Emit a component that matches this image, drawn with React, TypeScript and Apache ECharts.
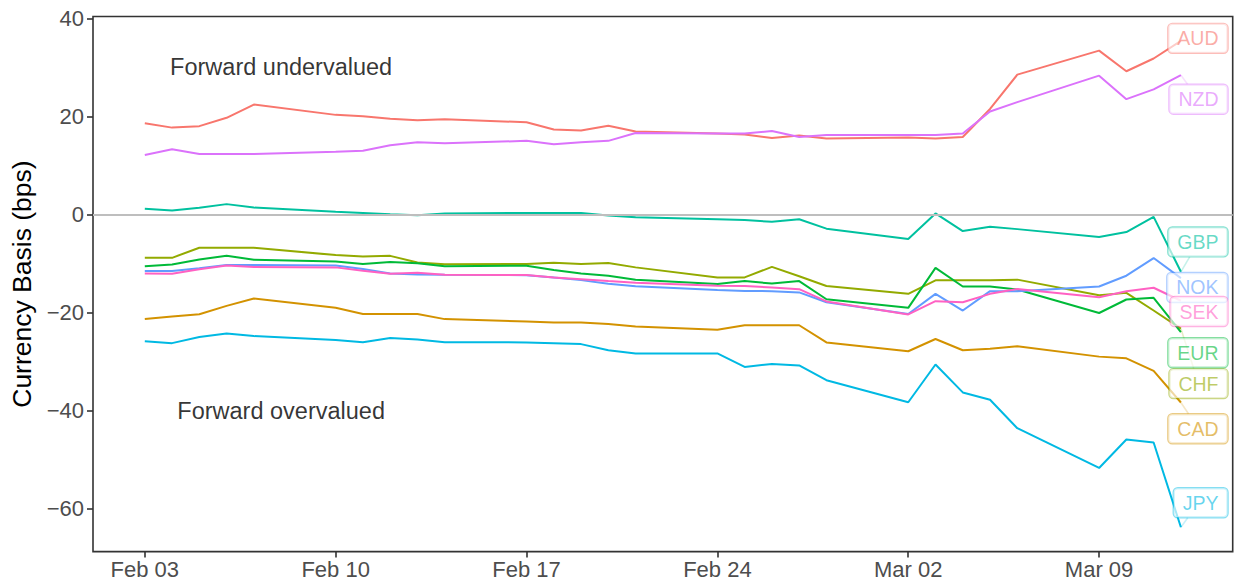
import React, { useEffect, useRef } from "react";
import * as echarts from "echarts";

// Trading days, counted from Feb 03
const dayOffsets = [0, 1, 2, 3, 4, 7, 8, 9, 10, 11, 14, 15, 16, 17, 18, 21, 22, 23, 24, 25, 28, 29, 30, 31, 32, 35, 36, 37, 38];
const tickDays = [0, 7, 14, 21, 28, 35];
const tickLabels = ["Feb 03", "Feb 10", "Feb 17", "Feb 24", "Mar 02", "Mar 09"];
const yTicks = [-60, -40, -20, 0, 20, 40];

const currencies = ["AUD", "CAD", "CHF", "EUR", "GBP", "JPY", "NOK", "NZD", "SEK"];
const colors = ["#F8766D", "#D39200", "#93AA00", "#00BA38", "#00C19F", "#00B9E3", "#619CFF", "#DB72FB", "#FF61C3"];

const AUD = [18.6, 17.7, 18.0, 19.7, 22.4, 20.3, 20.0, 19.5, 19.2, 19.4, 18.8, 17.3, 17.1, 18.1, 16.9, 16.5, 16.3, 15.6, 16.1, 15.5, 15.7, 15.5, 15.8, 21.5, 28.5, 33.4, 29.2, 31.8, 35.4];
const CAD = [-21.35, -20.8, -20.35, -18.65, -17.15, -19.05, -20.3, -20.3, -20.3, -21.35, -21.85, -22.05, -22.05, -22.35, -22.85, -23.5, -22.6, -22.6, -22.6, -26.1, -27.9, -25.4, -27.7, -27.4, -26.9, -29.0, -29.35, -31.9, -38.35];
const CHF = [-8.85, -8.85, -6.8, -6.8, -6.8, -8.3, -8.6, -8.45, -9.8, -10.15, -10.1, -9.85, -10.1, -9.9, -10.8, -12.85, -12.85, -10.7, -12.6, -14.6, -16.2, -13.45, -13.45, -13.45, -13.3, -16.5, -16.0, -19.6, -23.3];
const EUR = [-10.55, -10.2, -9.2, -8.45, -9.25, -9.6, -10.1, -9.7, -9.95, -10.55, -10.45, -11.35, -12.05, -12.5, -13.3, -14.2, -13.6, -14.1, -13.6, -17.3, -19.05, -10.9, -14.7, -14.7, -15.3, -20.1, -17.35, -17.0, -24.0];
const GBP = [1.15, 0.8, 1.35, 2.1, 1.4, 0.55, 0.3, 0.05, -0.15, 0.2, 0.3, 0.3, 0.3, -0.2, -0.6, -1.0, -1.15, -1.5, -1.0, -2.9, -5.0, 0.2, -3.4, -2.5, -3.0, -4.6, -3.6, -0.5, -11.7];
const JPY = [-25.85, -26.25, -25.0, -24.3, -24.8, -25.6, -26.05, -25.2, -25.5, -26.05, -26.1, -26.25, -26.45, -27.7, -28.35, -28.35, -31.1, -30.5, -30.8, -33.8, -38.3, -30.6, -36.3, -37.8, -43.6, -51.7, -45.9, -46.5, -63.8];
const NOK = [-11.55, -11.55, -11.0, -10.3, -10.3, -10.4, -11.15, -12.05, -12.25, -12.3, -12.4, -12.85, -13.4, -14.15, -14.65, -15.4, -15.6, -15.65, -15.9, -17.9, -20.3, -16.2, -19.6, -15.65, -15.65, -14.7, -12.5, -8.9, -13.0];
const NZD = [12.1, 13.3, 12.3, 12.3, 12.3, 12.8, 13.0, 14.1, 14.7, 14.5, 15.0, 14.3, 14.7, 15.0, 16.6, 16.5, 16.5, 17.0, 15.8, 16.2, 16.2, 16.2, 16.5, 21.0, 22.9, 28.3, 23.5, 25.5, 28.4];
const SEK = [-12.05, -12.1, -11.2, -10.4, -10.7, -10.8, -11.5, -12.1, -11.9, -12.3, -12.35, -12.85, -13.2, -13.6, -13.95, -14.55, -14.6, -14.9, -15.25, -17.75, -20.4, -17.7, -17.9, -16.2, -15.2, -16.9, -15.65, -14.95, -17.6];

const seriesValues = [AUD, CAD, CHF, EUR, GBP, JPY, NOK, NZD, SEK];
// repelled label positions (y, in bps)
const labelValues = [35.9, -43.7, -34.5, -28.2, -5.6, -58.8, -14.9, 23.5, -19.8];

const annotations = [
  { text: "Forward undervalued", day: 5, value: 30 },
  { text: "Forward overvalued", day: 5, value: -40 },
];

const X_MIN = -1.9;
const X_MAX = 39.9;
const Y_MIN = -68.76;
const Y_MAX = 40.36;
const LABEL_X = 39.71;

const FONT = "'Liberation Sans', Arial, Helvetica, sans-serif";

function rgba(hex: string, a: number) {
  const n = parseInt(hex.slice(1), 16);
  return `rgba(${(n >> 16) & 255},${(n >> 8) & 255},${n & 255},${a})`;
}

export default function App() {
  const ref = useRef<HTMLDivElement>(null);

  useEffect(() => {
    document.body.style.margin = "0";
    if (!ref.current) return;
    const chart = echarts.init(ref.current, undefined, { renderer: "svg" });

    const gridLeft = 92, gridRight = 3.3, gridTop = 16.5, gridBottom = 33.4;
    const pxPerDay = (1236 - gridLeft - gridRight) / (X_MAX - X_MIN);
    const pxPerUnit = (585 - gridTop - gridBottom) / (Y_MAX - Y_MIN);
    const halfW = 29, halfH = 15;

    const lastIdx = dayOffsets.length - 1;
    const connectors: any[] = [];
    currencies.forEach((c, i) => {
      const px = dayOffsets[lastIdx];
      const py = seriesValues[i][lastIdx];
      const cx = LABEL_X - 29 / pxPerDay;
      const cy = labelValues[i];
      const dx = (px - cx) * pxPerDay;
      const dy = (py - cy) * pxPerUnit;
      if (Math.abs(dx) <= halfW && Math.abs(dy) <= halfH) return;
      const t = Math.min(dx === 0 ? Infinity : halfW / Math.abs(dx), dy === 0 ? Infinity : halfH / Math.abs(dy));
      const len = Math.sqrt(dx * dx + dy * dy) * (1 - t);
      if (len < 9) return;
      const ex = cx + (px - cx) * t;
      const ey = cy + (py - cy) * t;
      connectors.push({
        coords: [[px, py], [ex, ey]],
        lineStyle: { color: rgba(colors[i], 0.45), width: 1.6 },
      });
    });

    const lineSeries = currencies.map((c, i) => ({
      name: c,
      type: "line",
      z: 3,
      data: dayOffsets.map((d, k) => [d, seriesValues[i][k]]),
      showSymbol: false,
      symbol: "none",
      lineStyle: { color: colors[i], width: 2 },
      itemStyle: { color: colors[i] },
      silent: true,
    }));

    const option: any = {
      animation: false,
      textStyle: { fontFamily: FONT },
      grid: {
        left: gridLeft,
        right: gridRight,
        top: gridTop,
        bottom: gridBottom,
        show: true,
        borderColor: "#333333",
        borderWidth: 1.6,
        backgroundColor: "transparent",
      },
      xAxis: {
        type: "value",
        min: X_MIN,
        max: X_MAX,
        axisLine: { show: false, onZero: false },
        splitLine: { show: false },
        axisTick: {
          show: true,
          customValues: tickDays,
          length: 6,
          lineStyle: { color: "#333333", width: 1.6 },
        },
        axisLabel: {
          customValues: tickDays,
          formatter: (v: number) => tickLabels[tickDays.indexOf(Math.round(v))] ?? "",
          color: "#4D4D4D",
          fontSize: 22,
          fontFamily: FONT,
          margin: 7,
        },
      },
      yAxis: {
        type: "value",
        min: Y_MIN,
        max: Y_MAX,
        name: "Currency Basis (bps)",
        nameLocation: "middle",
        nameRotate: 90,
        nameGap: 58,
        nameTextStyle: { color: "#000000", fontSize: 26.5, fontFamily: FONT },
        axisLine: { show: false, onZero: false },
        splitLine: { show: false },
        axisTick: {
          show: true,
          customValues: yTicks,
          length: 6,
          lineStyle: { color: "#333333", width: 1.6 },
        },
        axisLabel: {
          customValues: yTicks,
          formatter: (v: number) => (v < 0 ? "\u2212" + Math.abs(v) : String(v)),
          color: "#4D4D4D",
          fontSize: 22,
          fontFamily: FONT,
          margin: 9,
        },
      },
      series: [
        {
          type: "line",
          z: 1,
          data: [],
          silent: true,
          markLine: {
            silent: true,
            symbol: ["none", "none"],
            label: { show: false },
            lineStyle: { color: "#BEBEBE", width: 2, type: "solid" },
            data: [{ yAxis: 0 }],
          },
        },
        ...lineSeries,
        {
          type: "lines",
          coordinateSystem: "cartesian2d",
          z: 4,
          silent: true,
          data: connectors,
        },
        {
          type: "scatter",
          z: 5,
          silent: true,
          symbolSize: 0,
          data: currencies.map((c, i) => ({
            name: c,
            value: [LABEL_X, labelValues[i]],
            label: {
              show: true,
              position: "left",
              distance: 0,
              formatter: c,
              fontSize: 19.5,
              fontFamily: FONT,
              color: rgba(colors[i], 0.75),
              backgroundColor: "rgba(255,255,255,0.8)",
              borderColor: rgba(colors[i], 0.6),
              borderWidth: 1.2,
              borderRadius: 4,
              padding: [5, 9, 4, 9],
            },
          })),
        },
        {
          type: "scatter",
          z: 5,
          silent: true,
          symbolSize: 0,
          data: annotations.map((a) => ({
            name: a.text,
            value: [a.day, a.value],
            label: {
              show: true,
              position: "inside",
              formatter: a.text,
              fontSize: 23.5,
              fontFamily: FONT,
              color: "#000000",
            },
          })),
        },
      ],
    };

    chart.setOption(option);
    return () => chart.dispose();
  }, []);

  return <div ref={ref} style={{ width: 1236, height: 585 }} />;
}
